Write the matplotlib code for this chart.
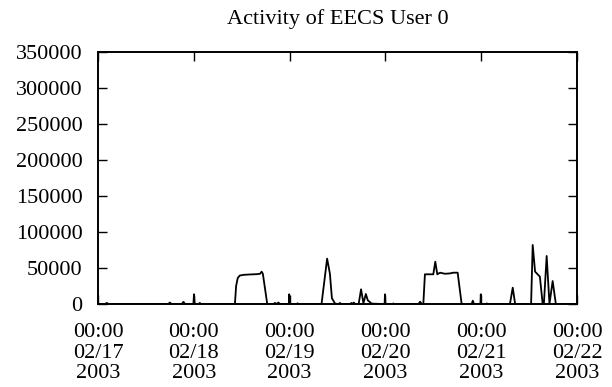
import matplotlib
matplotlib.use("Agg")
import matplotlib.pyplot as plt
import matplotlib.dates as mdates
import numpy as np
from datetime import datetime, timedelta

# Hours since 2003-02-17 00:00 and activity values (breakpoints)
hours = [0, 1.8, 2.2, 2.6, 17.6, 18.0, 18.4, 21.0, 21.4, 21.8, 23.9, 24.05, 24.2,
         25.2, 25.5, 25.8, 34.3, 34.6, 35.0, 35.5, 36.5, 38.0, 40.0, 40.6, 41.0,
         41.3, 42.4, 44.0, 44.3, 44.7, 45.2, 45.6, 46.0, 47.8, 47.9, 48.0,
         49.8, 50.0, 50.2, 56.0, 57.4, 58.1, 58.6, 59.4, 60.3, 60.6, 60.9,
         63.2, 63.5, 63.8, 64.1, 64.4, 64.8, 65.3, 65.9, 66.5, 67.1, 67.6, 68.6,
         71.8, 71.9, 72.0, 73.8, 74.0, 74.2, 80.3, 80.7, 81.1, 81.5, 81.9, 84.0,
         84.5, 85.0, 85.7, 86.9, 88.2, 89.0, 90.1, 91.1, 93.6, 93.9, 94.2,
         95.8, 95.9, 96.0, 97.2, 97.4, 97.6, 103.2, 103.9, 104.5, 108.5, 108.9,
         109.5, 110.7, 111.4, 111.7, 112.4, 113.1, 113.9, 114.7, 120.0]
values = [0, 0, 1500, 0, 0, 2000, 0, 0, 3000, 0, 0, 13500, 0,
          0, 1500, 0, 0, 25000, 36000, 39500, 40500, 41000, 41500, 42000, 44900,
          42000, 0, 0, 1500, 0, 2000, 0, 0, 0, 13500, 0,
          0, 1000, 0, 0, 63000, 42000, 8000, 500, 0, 1500, 0,
          0, 1500, 0, 2000, 0, 0, 0, 20400, 1000, 13900, 5000, 500,
          0, 13500, 0, 0, 800, 0, 0, 3200, 0, 0, 41250, 41250,
          58750, 41250, 43500, 42000, 42500, 43500, 43500, 0, 0, 4600, 0,
          0, 13500, 0, 0, 800, 0, 0, 22700, 0, 0, 82000,
          44900, 38000, 0, 0, 66700, 0, 31900, 0, 0]

y_ticks = [0, 50000, 100000, 150000, 200000, 250000, 300000, 350000]
start = datetime(2003, 2, 17)
x_ticks = [start + timedelta(days=d) for d in range(6)]

times = [start + timedelta(hours=h) for h in hours]

plt.rcParams['font.family'] = ['Liberation Serif', 'DejaVu Serif']
fig = plt.figure(figsize=(6.12, 3.87), dpi=100)
ax = fig.add_axes([98/612, 1-304/387, (577-98)/612, (304-52)/387])

ax.plot(times, values, color='black', linewidth=1.3)

ax.set_xlim(start, start + timedelta(days=5))
ax.set_ylim(0, 350000)
ax.set_yticks(y_ticks)
ax.set_yticklabels([str(v) for v in y_ticks])
ax.set_xticks(x_ticks)
ax.set_xticklabels([t.strftime("%H:%M\n%m/%d\n%Y") for t in x_ticks], linespacing=1.1)

ax.tick_params(direction='in', length=6.5, width=1.0, top=True, right=True,
               labelsize=16)
ax.tick_params(axis='x', pad=14)
ax.tick_params(axis='y', pad=11)
for s in ax.spines.values():
    s.set_linewidth(1.4)

ax.set_title("Activity of EECS User 0", fontsize=16, pad=20)

fig.savefig("out.png", dpi=100)
